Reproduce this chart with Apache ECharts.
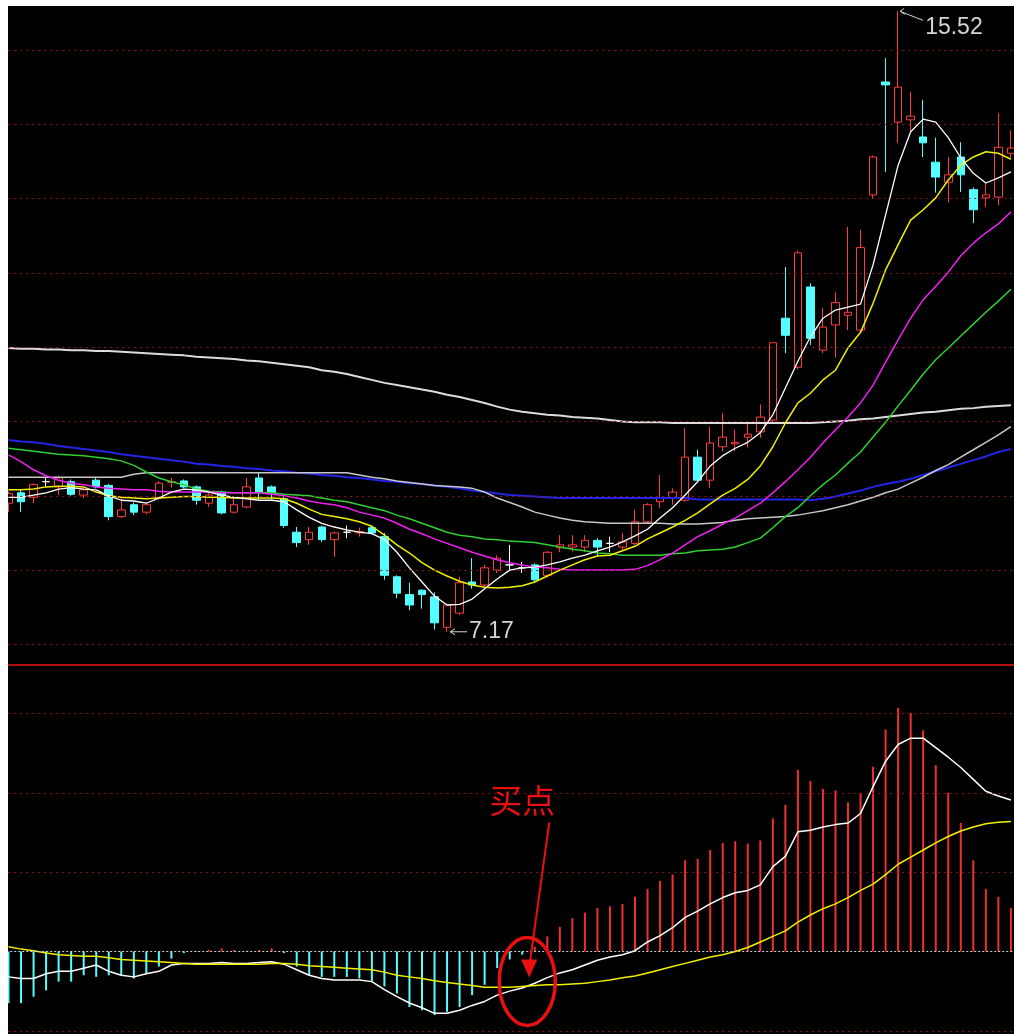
<!DOCTYPE html>
<html><head><meta charset="utf-8">
<script src="https://cdn.jsdelivr.net/npm/echarts@6/dist/echarts.min.js"></script>
<style>
html,body{margin:0;padding:0;background:#fff;width:1014px;height:1034px;overflow:hidden;}
#wrap{position:absolute;left:8px;top:6px;width:1006px;height:1028px;overflow:hidden;background:#000;}
#chart{position:absolute;left:-20px;top:0;width:1040px;height:1028px;}
</style></head><body>
<div id="wrap"><div id="chart"></div></div>
<script>
// ---------- DATA ----------
const opens  = [8.90,9.04,8.98,9.19,9.12,9.19,9.01,9.21,9.14,8.72, 8.88,8.78,8.97,9.18,9.20,9.12,8.90,9.05,8.78,8.85, 9.24,9.12,8.96,8.51,8.41,8.58,8.41,8.51,8.50,8.57, 8.45,7.91,7.67,7.73,7.64,7.23,7.42,7.84,7.80,8.00, 8.07,8.03,8.07,7.93,8.30,8.31,8.31,8.40,8.36,8.31, 8.36,8.65,8.92,8.97,8.94,9.52,9.21,9.66,9.70,9.79, 9.86,10.02,11.39,10.73,11.81,10.96,11.30,11.43,11.23,13.05, 14.57,14.03,14.06,13.83,13.49,13.22,13.56,13.12,13.01,13.02,13.61];
const closes = [9.03,8.92,9.15,9.19,9.24,9.02,9.08,9.12,8.72,8.81, 8.78,8.88,9.17,9.19,9.12,8.94,9.01,8.77,8.88,9.12, 9.05,9.04,8.60,8.37,8.51,8.41,8.50,8.51,8.52,8.50, 7.93,7.69,7.53,7.67,7.29,7.53,7.83,7.80,8.03,8.16, 8.07,8.03,7.87,8.24,8.34,8.34,8.40,8.31,8.36,8.38, 8.65,8.88,8.97,9.05,9.52,9.21,9.71,9.79,9.72,9.83, 10.06,11.06,11.16,12.27,11.12,11.27,11.60,11.47,12.34,13.56, 14.53,14.50,14.11,13.75,13.29,13.32,13.32,12.85,13.05,13.69,13.68];
const lows   = [8.78,8.78,8.90,9.12,9.01,9.00,8.97,9.10,8.67,8.70, 8.74,8.75,8.95,9.11,9.10,8.88,8.85,8.75,8.76,8.83, 8.95,8.95,8.57,8.31,8.34,8.38,8.18,8.43,8.45,8.48, 7.87,7.62,7.46,7.48,7.20,7.17,7.40,7.75,7.78,7.96, 8.00,7.96,7.84,7.90,8.24,8.25,8.24,8.18,8.24,8.27, 8.33,8.62,8.84,8.88,8.92,9.19,9.10,9.60,9.60,9.65, 9.78,9.98,10.92,10.70,11.03,10.92,10.86,11.23,11.20,13.00, 13.36,13.75,13.88,13.56,13.08,12.95,13.09,12.67,12.89,12.91,13.55];
const highs  = [9.06,9.08,9.17,9.25,9.27,9.22,9.10,9.25,9.16,8.97, 8.91,8.92,9.20,9.24,9.22,9.14,9.05,9.07,8.97,9.24, 9.31,9.14,8.99,8.58,8.58,8.60,8.52,8.60,8.57,8.60, 8.50,7.93,7.83,7.74,7.70,7.55,7.91,8.16,8.07,8.20, 8.34,8.11,8.09,8.26,8.47,8.47,8.47,8.43,8.45,8.50, 8.81,8.90,9.28,9.10,9.91,9.62,9.93,10.11,9.89,9.97, 10.23,11.07,12.08,12.30,11.86,11.53,11.74,12.62,12.58,13.58, 14.89,15.52,14.44,14.33,13.82,13.56,13.76,13.15,13.21,14.15,13.92];

const ma5   = [8.98,8.98,9.01,9.04,9.09,9.11,9.09,9.08,9.00,8.94, 8.93,8.90,8.97,9.05,9.09,9.08,9.05,9.01,8.98,8.96, 8.94,8.94,8.92,8.81,8.71,8.63,8.58,8.54,8.51,8.49, 8.41,8.24,8.03,7.84,7.65,7.53,7.54,7.61,7.75,7.88, 8.00,8.03,8.04,8.07,8.11,8.16,8.20,8.26,8.31,8.38, 8.46,8.55,8.70,8.84,9.01,9.19,9.40,9.54,9.64,9.72, 9.85,10.09,10.45,10.81,11.14,11.39,11.50,11.54,11.58,12.11, 12.78,13.45,13.90,14.07,14.03,13.82,13.55,13.34,13.21,13.28,13.36];
const ma10  = [9.08,9.08,9.09,9.12,9.13,9.13,9.12,9.05,9.00,8.98, 8.97,8.96,8.97,8.98,8.99,8.99,8.98,8.98,8.97,8.97, 8.97,8.97,8.96,8.90,8.82,8.75,8.72,8.69,8.65,8.59, 8.47,8.34,8.23,8.10,8.00,7.92,7.85,7.80,7.77,7.76, 7.77,7.79,7.84,7.92,8.00,8.07,8.14,8.19,8.20,8.26, 8.32,8.42,8.50,8.58,8.67,8.77,8.89,9.01,9.10,9.22, 9.40,9.66,9.98,10.25,10.38,10.56,10.69,10.99,11.20,11.59, 12.04,12.38,12.71,12.85,13.01,13.25,13.45,13.56,13.63,13.61,13.53];
const ma20  = [9.55,9.46,9.35,9.27,9.21,9.17,9.15,9.12,9.10,9.09, 9.08,9.08,9.06,9.05,9.05,9.05,9.05,9.04,9.04,9.04, 9.04,9.02,9.00,8.97,8.93,8.90,8.88,8.84,8.78,8.74, 8.70,8.63,8.55,8.49,8.42,8.36,8.30,8.24,8.19,8.14, 8.10,8.07,8.04,8.03,8.01,8.00,8.00,8.00,8.00,8.00, 8.01,8.06,8.14,8.23,8.34,8.45,8.53,8.62,8.70,8.80, 8.90,9.04,9.19,9.35,9.52,9.71,9.89,10.06,10.25,10.49, 10.80,11.10,11.39,11.64,11.82,12.01,12.23,12.40,12.54,12.66,12.82];
const ma30  = [9.64,9.62,9.60,9.58,9.56,9.55,9.54,9.52,9.50,9.47, 9.41,9.32,9.24,9.19,9.15,9.09,9.06,9.05,9.04,9.04, 9.04,9.04,9.02,9.01,9.00,8.97,8.94,8.92,8.88,8.84, 8.80,8.74,8.69,8.63,8.57,8.51,8.47,8.45,8.42,8.41, 8.39,8.38,8.37,8.34,8.31,8.28,8.26,8.23,8.22,8.20, 8.20,8.20,8.20,8.22,8.23,8.26,8.27,8.28,8.31,8.37, 8.43,8.57,8.72,8.84,9.00,9.15,9.28,9.44,9.59,9.79, 9.99,10.21,10.42,10.64,10.83,10.99,11.15,11.31,11.47,11.62,11.78];
const ma60  = [9.25,9.25,9.25,9.25,9.25,9.25,9.25,9.25,9.25,9.25, 9.29,9.31,9.31,9.31,9.31,9.31,9.31,9.31,9.31,9.31, 9.31,9.31,9.31,9.31,9.31,9.31,9.31,9.31,9.28,9.25, 9.23,9.20,9.18,9.16,9.14,9.13,9.12,9.10,9.05,8.97, 8.91,8.85,8.78,8.74,8.70,8.67,8.65,8.64,8.63,8.63, 8.63,8.63,8.63,8.62,8.62,8.62,8.63,8.64,8.67,8.69, 8.70,8.71,8.72,8.74,8.77,8.80,8.84,8.88,8.93,8.98, 9.04,9.09,9.17,9.25,9.34,9.42,9.52,9.62,9.72,9.82,9.93];
const ma120 = [9.75,9.73,9.72,9.70,9.67,9.65,9.63,9.61,9.59,9.56, 9.54,9.52,9.50,9.48,9.46,9.43,9.42,9.40,9.39,9.37, 9.36,9.34,9.33,9.31,9.30,9.28,9.27,9.25,9.24,9.22, 9.20,9.19,9.17,9.16,9.14,9.12,9.10,9.07,9.05,9.03, 9.01,9.00,8.99,8.98,8.97,8.97,8.97,8.97,8.97,8.97, 8.97,8.97,8.97,8.97,8.97,8.95,8.95,8.95,8.95,8.95, 8.95,8.95,8.95,8.95,8.94,8.96,8.99,9.03,9.07,9.12, 9.16,9.19,9.23,9.28,9.33,9.38,9.43,9.48,9.53,9.59,9.63];
const ma250 = [10.99,10.98,10.98,10.97,10.97,10.96,10.96,10.95,10.95,10.94, 10.93,10.92,10.91,10.90,10.89,10.87,10.86,10.85,10.84,10.82, 10.81,10.79,10.77,10.75,10.73,10.69,10.67,10.64,10.60,10.56, 10.52,10.49,10.46,10.43,10.40,10.36,10.33,10.29,10.25,10.20, 10.16,10.13,10.11,10.09,10.08,10.06,10.05,10.04,10.02,10.00, 9.99,9.99,9.99,9.98,9.98,9.98,9.98,9.98,9.98,9.98, 9.98,9.98,9.98,9.98,9.98,9.99,10.00,10.01,10.03,10.04, 10.06,10.08,10.10,10.12,10.13,10.15,10.17,10.18,10.20,10.21,10.22];

const macdHist = [-0.65,-0.65,-0.57,-0.49,-0.38,-0.38,-0.30,-0.32,-0.30,-0.30, -0.34,-0.28,-0.19,-0.09,-0.02,0.01,0.02,0.04,0.02,0.01, 0.02,0.04,-0.02,-0.19,-0.30,-0.32,-0.32,-0.32,-0.34,-0.38, -0.44,-0.53,-0.70,-0.74,-0.80,-0.76,-0.70,-0.55,-0.42,-0.21, -0.10,-0.04,0.06,0.19,0.31,0.42,0.49,0.55,0.57,0.60, 0.69,0.79,0.89,0.97,1.15,1.17,1.28,1.37,1.39,1.36, 1.40,1.68,1.85,2.29,2.15,2.05,2.03,1.88,2.00,2.33, 2.80,3.07,3.01,2.79,2.35,2.00,1.62,1.15,0.79,0.69,0.55];
const dif = [-0.32,-0.34,-0.34,-0.28,-0.25,-0.25,-0.21,-0.17,-0.25,-0.30, -0.32,-0.28,-0.25,-0.17,-0.15,-0.15,-0.15,-0.14,-0.15,-0.15, -0.14,-0.13,-0.16,-0.23,-0.30,-0.34,-0.36,-0.36,-0.36,-0.38, -0.48,-0.57,-0.65,-0.71,-0.78,-0.78,-0.74,-0.68,-0.63,-0.55, -0.50,-0.46,-0.40,-0.33,-0.27,-0.23,-0.17,-0.11,-0.07,-0.04, 0.01,0.12,0.20,0.30,0.43,0.51,0.60,0.68,0.74,0.77, 0.84,1.07,1.20,1.51,1.53,1.57,1.60,1.62,1.74,2.08, 2.40,2.61,2.69,2.69,2.57,2.45,2.32,2.17,2.02,1.96,1.91];
const dea = [0.06,0.03,0.01,-0.02,-0.04,-0.05,-0.06,-0.06,-0.08,-0.10, -0.11,-0.12,-0.13,-0.14,-0.15,-0.16,-0.16,-0.16,-0.16,-0.16, -0.16,-0.15,-0.15,-0.16,-0.18,-0.19,-0.20,-0.21,-0.22,-0.23, -0.26,-0.30,-0.32,-0.34,-0.37,-0.39,-0.41,-0.43,-0.45,-0.45, -0.45,-0.44,-0.43,-0.42,-0.42,-0.41,-0.40,-0.38,-0.36,-0.33, -0.31,-0.27,-0.23,-0.19,-0.15,-0.11,-0.07,-0.04,0.00,0.05, 0.12,0.19,0.26,0.37,0.46,0.54,0.60,0.68,0.77,0.85, 0.97,1.10,1.19,1.28,1.37,1.45,1.52,1.57,1.61,1.63,1.64];

const priceGridLevels = [7, 8, 9, 10, 11, 12, 13, 14, 15];
const macdGridLevels = [-1, 1, 2, 3];
const macdZeroLevel = [0];
const buyText = '买点';
const buyIndex = 41;

// ---------- LAYOUT / STYLE ----------
const UP = '#ff3c3c', DOWN = '#54ffff', DOJI = '#ffffff';
const GRID_L = 14.235, GRID_R = 10.835;
const categories = opens.map((_, i) => String(i + 1));

const candleData = opens.map((o, i) => {
  const item = { value: [o, closes[i], lows[i], highs[i]] };
  if (o === closes[i]) item.itemStyle = { color: DOJI, borderColor: DOJI, color0: DOJI, borderColor0: DOJI };
  return item;
});

function maLine(name, data, color, width) {
  return { name, type: 'line', data, xAxisIndex: 0, yAxisIndex: 0, symbol: 'none', showSymbol: false,
    silent: true, z: 4, lineStyle: { color, width }, emphasis: { disabled: true } };
}

const chart = echarts.init(document.getElementById('chart'), null, { renderer: 'canvas' });
chart.setOption({
  animation: false,
  backgroundColor: 'transparent',
  grid: [
    { left: GRID_L, right: GRID_R, top: 0, height: 659 },
    { left: GRID_L, right: GRID_R, top: 662, height: 366 }
  ],
  xAxis: [
    { type: 'category', gridIndex: 0, data: categories, boundaryGap: true,
      axisLine: { show: true, onZero: false, lineStyle: { color: '#b40c0c', width: 2 } },
      axisTick: { show: false }, axisLabel: { show: false }, splitLine: { show: false } },
    { type: 'category', gridIndex: 1, data: categories, boundaryGap: true, show: false }
  ],
  yAxis: [
    { type: 'value', gridIndex: 0, min: 6.7227, max: 15.5922, show: false, splitLine: { show: false } },
    { type: 'value', gridIndex: 1, min: -1.0404, max: 3.575, show: false, splitLine: { show: false } }
  ],
  series: [
    { name: 'priceGrid', type: 'line', xAxisIndex: 0, yAxisIndex: 0, data: closes, symbol: 'none',
      lineStyle: { opacity: 0 }, silent: true, z: 1,
      markLine: { silent: true, symbol: ['none', 'none'], animation: false, label: { show: false },
        lineStyle: { color: '#8c1616', type: [2, 4], width: 1 },
        data: priceGridLevels.map(v => ({ yAxis: v })) } },
    { name: 'K', type: 'candlestick', xAxisIndex: 0, yAxisIndex: 0, data: candleData, barWidth: 8, z: 3,
      silent: true,
      itemStyle: { color: '#000', color0: DOWN, borderColor: UP, borderColor0: DOWN, borderWidth: 1 } },
    maLine('MA250', ma250, '#dcdcdc', 2),
    maLine('MA120', ma120, '#2424e6', 2),
    maLine('MA60', ma60, '#c8c8c8', 1.5),
    maLine('MA30', ma30, '#30d030', 1.5),
    maLine('MA20', ma20, '#f020f0', 1.5),
    maLine('MA10', ma10, '#f0f000', 1.5),
    maLine('MA5', ma5, '#ffffff', 1.3),
    { name: 'macdGrid', type: 'line', xAxisIndex: 1, yAxisIndex: 1, data: dea, symbol: 'none',
      lineStyle: { opacity: 0 }, silent: true, z: 1,
      markLine: { silent: true, symbol: ['none', 'none'], animation: false, label: { show: false },
        data: macdGridLevels.map(v => ({ yAxis: v, lineStyle: { color: '#8c1616', type: [2, 4], width: 1 } }))
          .concat(macdZeroLevel.map(v => ({ yAxis: v, lineStyle: { color: '#d0d0d0', type: [2, 2], width: 1 } }))) } },
    { name: 'MACD', type: 'bar', xAxisIndex: 1, yAxisIndex: 1, data: macdHist, barWidth: 2, silent: true, z: 2,
      itemStyle: { color: p => (p.value >= 0 ? '#f03030' : DOWN) } },
    { name: 'DIF', type: 'line', xAxisIndex: 1, yAxisIndex: 1, data: dif, symbol: 'none', silent: true, z: 4,
      lineStyle: { color: '#ffffff', width: 1.5 } },
    { name: 'DEA', type: 'line', xAxisIndex: 1, yAxisIndex: 1, data: dea, symbol: 'none', silent: true, z: 4,
      lineStyle: { color: '#f0f000', width: 1.5 } }
  ]
});

// ---------- annotations anchored on data ----------
const hiVal = Math.max(...highs), hiIdx = highs.indexOf(hiVal);
const loVal = Math.min(...lows), loIdx = lows.indexOf(loVal);
const hp = chart.convertToPixel({ gridIndex: 0 }, [hiIdx, hiVal]);
const lp = chart.convertToPixel({ gridIndex: 0 }, [loIdx, loVal]);
const bp = chart.convertToPixel({ gridIndex: 1 }, [buyIndex, dea[buyIndex]]);
const TXT = '#d4d4d4', RED = '#e81010';
const font = '23px "Liberation Sans", Arial, sans-serif';

chart.setOption({
  graphic: [
    // high label
    { type: 'polyline', shape: { points: [[hp[0] + 6, hp[1] - 3], [hp[0] + 2, hp[1]], [hp[0] + 7, hp[1] + 3]] },
      style: { stroke: TXT, lineWidth: 1, fill: null }, silent: true, z: 10 },
    { type: 'line', shape: { x1: hp[0] + 2, y1: hp[1], x2: hp[0] + 25, y2: hp[1] + 9 },
      style: { stroke: TXT, lineWidth: 1 }, silent: true, z: 10 },
    { type: 'text', x: hp[0] + 27, y: hp[1] + 16, silent: true, z: 10,
      style: { text: hiVal.toFixed(2), fill: TXT, font, verticalAlign: 'middle', align: 'left' } },
    // low label
    { type: 'polyline', shape: { points: [[lp[0] + 8, lp[1] - 3], [lp[0] + 3, lp[1]], [lp[0] + 8, lp[1] + 3]] },
      style: { stroke: TXT, lineWidth: 1, fill: null }, silent: true, z: 10 },
    { type: 'line', shape: { x1: lp[0] + 3, y1: lp[1], x2: lp[0] + 20, y2: lp[1] },
      style: { stroke: TXT, lineWidth: 1 }, silent: true, z: 10 },
    { type: 'text', x: lp[0] + 22, y: lp[1], silent: true, z: 10,
      style: { text: loVal.toFixed(2), fill: TXT, font, verticalAlign: 'middle', align: 'left' } },
    // buy point annotation
    { type: 'ellipse', shape: { cx: bp[0] + 5, cy: bp[1] - 5, rx: 28, ry: 44 },
      style: { stroke: RED, lineWidth: 3.5, fill: null }, silent: true, z: 10 },
    { type: 'line', shape: { x1: bp[0] + 27, y1: bp[1] - 164, x2: bp[0] + 8, y2: bp[1] - 26 },
      style: { stroke: RED, lineWidth: 2 }, silent: true, z: 10 },
    { type: 'polygon', shape: { points: [[bp[0] - 1, bp[1] - 27], [bp[0] + 15, bp[1] - 27], [bp[0] + 7, bp[1] - 9]] },
      style: { fill: RED }, silent: true, z: 10 },
    { type: 'text', x: bp[0], y: bp[1] - 186, silent: true, z: 10,
      style: { text: buyText, fill: RED, font: '33px "Noto Sans CJK SC", sans-serif', align: 'center', verticalAlign: 'middle' } }
  ]
});
</script>
</body></html>
